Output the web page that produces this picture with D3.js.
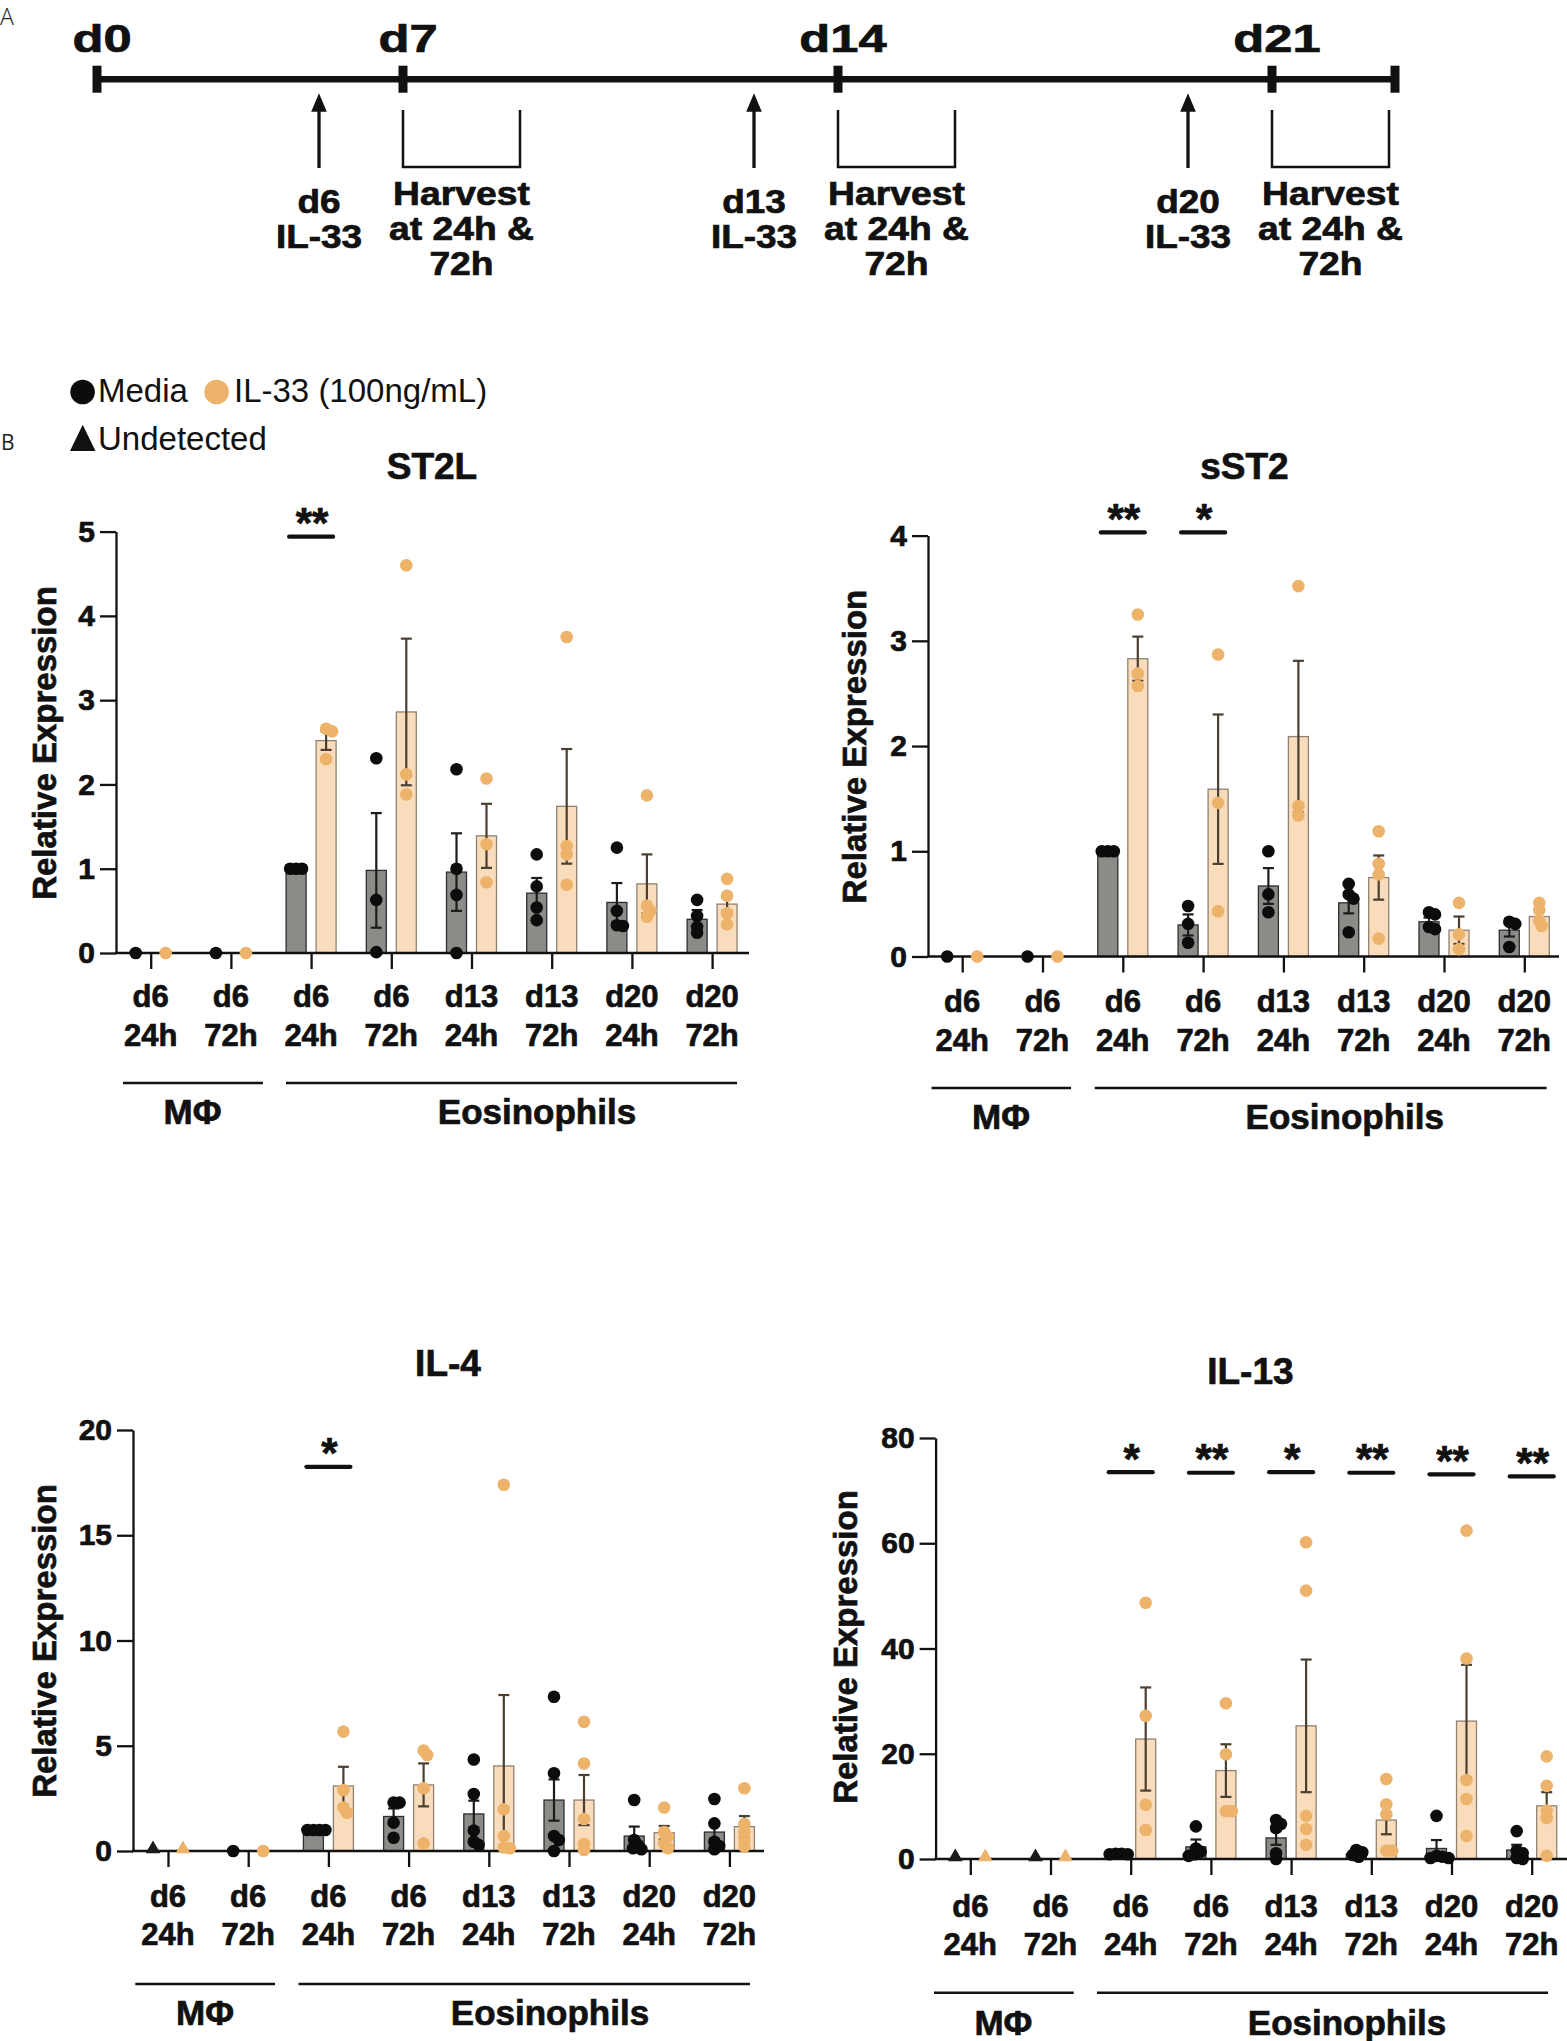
<!DOCTYPE html>
<html>
<head>
<meta charset="utf-8">
<script src="https://cdn.jsdelivr.net/npm/d3@7"></script>
<style>
body { margin: 0; background: #fff; }
svg { display: block; }
text { font-family: "Liberation Sans", Arial, Helvetica, sans-serif; }
.heavy { stroke: #111; stroke-width: 0.7px; }
</style>
</head>
<body>
<svg id="fig" width="1567" height="2041"></svg>
<script>
// ---- data ----
var tickTop = ["d6", "d6", "d6", "d6", "d13", "d13", "d20", "d20"];
var tickBottom = ["24h", "72h", "24h", "72h", "24h", "72h", "24h", "72h"];
var groupNames = ["MΦ", "Eosinophils"];
var seriesNames = ["Media", "IL-33 (100ng/mL)"];

// timeline (panel A)
var timelineDays = [0, 7, 14, 21];
var stimDays = [6, 13, 20];

// ST2L
var st2lTicks = [0, 1, 2, 3, 4, 5];
var st2lMediaMean = [0, 0, 1.0, 0.98, 0.96, 0.71, 0.60, 0.40];
var st2lMediaSem = [0, 0, 0, 0.68, 0.46, 0.18, 0.23, 0.11];
var st2lMediaPts = [[0], [0], [1, 1, 1], [2.31, 0.63, 0.01], [2.18, 1.0, 0.69, 0], [1.17, 0.79, 0.54, 0.39], [1.25, 0.50, 0.33, 0.32], [0.63, 0.44, 0.31, 0.24]];
var st2lIl33Mean = [0, 0, 2.52, 2.86, 1.39, 1.74, 0.82, 0.58];
var st2lIl33Sem = [0, 0, 0.11, 0.87, 0.38, 0.68, 0.35, 0.08];
var st2lIl33Pts = [[0], [0], [2.66, 2.63, 2.30], [4.60, 2.12, 1.88], [2.07, 1.29, 0.84], [3.75, 1.27, 1.17, 0.81], [1.87, 0.56, 0.50, 0.43], [0.88, 0.68, 0.47, 0.34]];
var st2lSigCats = [2], st2lSigText = ["**"], st2lSigLevel = [4.94];

// sST2
var sst2Ticks = [0, 1, 2, 3, 4];
var sst2MediaMean = [0, 0, 1.0, 0.30, 0.67, 0.51, 0.33, 0.25];
var sst2MediaSem = [0, 0, 0, 0.10, 0.17, 0.10, 0.04, 0.06];
var sst2MediaPts = [[0], [0], [1, 1, 1], [0.48, 0.31, 0.13], [1.0, 0.59, 0.42], [0.69, 0.59, 0.55, 0.23], [0.42, 0.40, 0.28, 0.26], [0.33, 0.31, 0.09]];
var sst2Il33Mean = [0, 0, 2.83, 1.59, 2.09, 0.75, 0.25, 0.38];
var sst2Il33Sem = [0, 0, 0.21, 0.71, 0.72, 0.21, 0.13, 0.05];
var sst2Il33Pts = [[0], [0], [3.25, 2.69, 2.57], [2.87, 1.46, 0.43], [3.52, 1.43, 1.34], [1.19, 0.88, 0.78, 0.17], [0.51, 0.21, 0.07], [0.51, 0.44, 0.34, 0.29]];
var sst2SigCats = [2, 3], sst2SigText = ["**", "*"], sst2SigLevel = [4.03, 4.03];

// IL-4
var il4Ticks = [0, 5, 10, 15, 20];
var il4MediaMean = [0, 0, 1.0, 1.64, 1.76, 2.42, 0.71, 0.90];
var il4MediaSem = [0, 0, 0, 0.38, 0.63, 0.98, 0.45, 0.34];
var il4MediaPts = [[0], [0], [1, 1, 1, 1], [2.3, 2.3, 1.35, 0.63], [4.35, 2.71, 0.97, 0.44, 0.29], [7.33, 3.69, 0.71, 0.52, 0], [2.42, 0.52, 0.29, 0.13, 0.08], [2.47, 1.31, 0.44, 0.24, 0.08]];
var il4Il33Mean = [0, 0, 3.09, 3.14, 4.04, 2.42, 0.87, 1.16];
var il4Il33Sem = [0, 0, 0.91, 1.02, 3.37, 1.19, 0.32, 0.50];
var il4Il33Pts = [[0], [0], [5.67, 2.9, 2.06, 1.82], [4.77, 4.56, 2.98, 0.36], [17.4, 1.98, 0.71, 0.17, 0.13], [6.14, 4.16, 1.52, 0.33, 0.05], [2.07, 0.9, 0.68, 0.36, 0.13], [2.98, 1.28, 0.92, 0.52, 0.21]];
var il4Undetected = [0];
var il4SigCats = [2], il4SigText = ["*"], il4SigLevel = [18.25];

// IL-13
var il13Ticks = [0, 20, 40, 60, 80];
var il13MediaMean = [0, 0, 0.95, 2.3, 4.0, 0.95, 2.0, 1.7];
var il13MediaSem = [0, 0, 0, 1.4, 1.3, 0.3, 1.6, 1.0];
var il13MediaPts = [[0], [0], [1, 1, 0.9, 0.9], [6.2, 2.0, 1.4, 0.9, 0.6], [7.4, 6.65, 5.9, 1.1, 0], [1.7, 1.27, 0.76, 0.44], [8.2, 0.6, 0.44, 0.2, 0.2], [5.3, 1.6, 1.1, 0.2, 0]];
var il13Il33Mean = [0, 0, 22.8, 16.8, 25.3, 7.4, 26.2, 10.1];
var il13Il33Sem = [0, 0, 9.8, 5.0, 12.6, 2.7, 10.7, 2.6];
var il13Il33Pts = [[0], [0], [48.7, 27.2, 10.3, 5.5], [29.6, 19.9, 9.1, 9.1], [60.2, 51.0, 8.2, 5.7, 2.7], [15.2, 10.4, 8.5, 1.6, 1.6], [62.4, 38.1, 15.0, 11.4, 4.4], [19.5, 13.9, 9.2, 7.8, 0.6]];
var il13Undetected = [0, 1];
var il13SigCats = [2, 3, 4, 5, 6, 7], il13SigText = ["*", "**", "*", "**", "**", "**"], il13SigLevel = [73.5, 73.4, 73.5, 73.4, 73.1, 72.7];

// ---- styles ----
var colMediaBar = "#8b8b87", colMediaEdge = "#2e2e2e", colMediaDot = "#0c0c0c", colMediaErr = "#1c1c1c";
var colIlBar = "#f9dcbb", colIlEdge = "#8f8272", colIlDot = "#eeb36b", colIlErr = "#4a3f30";
var ink = "#111";

var svg = d3.select("#fig");

// ---- panel A: timeline ----
var tx = d3.scaleLinear().domain(timelineDays).range([97, 403, 838, 1272]);
var lineY = 79.3, lineEnd = 1395;

svg.append("text").attr("x", 0).attr("y", 25)
  .style("font-family", "'Open Sans', sans-serif").style("font-size", "23px").style("font-weight", 300)
  .attr("fill", "#222").text("A");

svg.append("line").attr("x1", tx(0)).attr("x2", lineEnd).attr("y1", lineY).attr("y2", lineY)
  .attr("stroke", ink).attr("stroke-width", 6.5);

svg.selectAll(".dtick").data(timelineDays.map(tx).concat([lineEnd])).enter().append("line")
  .attr("x1", function(d) { return d; }).attr("x2", function(d) { return d; })
  .attr("y1", 65.7).attr("y2", 92.7).attr("stroke", ink).attr("stroke-width", 9);

svg.selectAll(".dlab").data(timelineDays).enter().append("text")
  .attr("class", "heavy")
  .attr("transform", function(d) { return "translate(" + (tx(d) + 5) + ",51.7) scale(1.3,1)"; })
  .attr("text-anchor", "middle").style("font-size", "39px").style("font-weight", "bold").attr("fill", ink)
  .text(function(d) { return "d" + d; });

// IL-33 stimulation arrows, one day before each harvest tick
var stim = svg.selectAll(".stim").data(stimDays).enter().append("g")
  .attr("transform", function(d) { return "translate(" + (tx(d + 1) - 84) + ",0)"; });
stim.append("line").attr("x1", 0).attr("x2", 0).attr("y1", 168).attr("y2", 108)
  .attr("stroke", ink).attr("stroke-width", 3.3);
stim.append("path").attr("d", "M0,93.3 L7.8,111.7 L-7.8,111.7 Z").attr("fill", ink);
stim.append("text").attr("class", "heavy").attr("y", 213.3).attr("text-anchor", "middle")
  .attr("transform", "scale(1.12,1)")
  .style("font-size", "33px").style("font-weight", "bold").attr("fill", ink)
  .selectAll("tspan").data(function(d) { return ["d" + d, "IL-33"]; }).enter().append("tspan")
  .attr("x", 0).attr("dy", function(d, i) { return i ? 35 : 0; }).text(function(d) { return d; });

// harvest brackets
var harv = svg.selectAll(".harv").data(stimDays).enter().append("g")
  .attr("transform", function(d) { return "translate(" + tx(d + 1) + ",0)"; });
harv.append("path").attr("d", "M0,110 V167 H117 V110").attr("fill", "none")
  .attr("stroke", ink).attr("stroke-width", 2.5);
harv.append("text").attr("class", "heavy").attr("y", 205).attr("text-anchor", "middle")
  .attr("transform", "translate(58.5,0) scale(1.13,1)")
  .style("font-size", "33px").style("font-weight", "bold").attr("fill", ink)
  .selectAll("tspan").data(["Harvest", "at 24h &", "72h"]).enter().append("tspan")
  .attr("x", 0).attr("dy", function(d, i) { return i ? 35 : 0; }).text(function(d) { return d; });

// ---- legend + B label ----
svg.append("text").attr("x", 1).attr("y", 449.5)
  .style("font-family", "'Open Sans', sans-serif").style("font-size", "21px")
  .attr("fill", "#222").text("B");

svg.append("circle").attr("cx", 82.6).attr("cy", 392).attr("r", 12.3).attr("fill", colMediaDot);
svg.append("text").attr("x", 98).attr("y", 402).style("font-size", "33px").attr("fill", ink).text(seriesNames[0]);
svg.append("circle").attr("cx", 216.6).attr("cy", 392).attr("r", 12.3).attr("fill", colIlDot);
svg.append("text").attr("x", 234).attr("y", 402).style("font-size", "33px").attr("fill", ink).text(seriesNames[1]);
svg.append("path").attr("d", "M70,451 L95.5,451 L82.7,424.7 Z").attr("fill", ink);
svg.append("text").attr("x", 98).attr("y", 449.5).style("font-size", "33px").attr("fill", ink).text("Undetected");

// ---- bar panels ----
var panels = [
  { title: "ST2L", ticks: st2lTicks,
    series: [{ mean: st2lMediaMean, sem: st2lMediaSem, pts: st2lMediaPts }, { mean: st2lIl33Mean, sem: st2lIl33Sem, pts: st2lIl33Pts }],
    undetected: [], sig: { cats: st2lSigCats, text: st2lSigText, level: st2lSigLevel },
    L: { ax: 116, y0: 953, yTop: 531.6, t0: 150.7, step: 80.2, axisEnd: 749, titleX: 432, titleY: 479,
         ylabX: 45, ylabY: 743, tl1: 1006.8, tl2: 1045.6, gY: 1083, mphi: [123, 263], eos: [286, 737],
         gLabY: 1124, mphiX: 192.5, eosX: 537 } },
  { title: "sST2", ticks: sst2Ticks,
    series: [{ mean: sst2MediaMean, sem: sst2MediaSem, pts: sst2MediaPts }, { mean: sst2Il33Mean, sem: sst2Il33Sem, pts: sst2Il33Pts }],
    undetected: [], sig: { cats: sst2SigCats, text: sst2SigText, level: sst2SigLevel },
    L: { ax: 928, y0: 956.5, yTop: 535.6, t0: 962.2, step: 80.3, axisEnd: 1559, titleX: 1244.4, titleY: 479.4,
         ylabX: 855.3, ylabY: 746.6, tl1: 1011.7, tl2: 1050.5, gY: 1088, mphi: [931.6, 1071], eos: [1094.8, 1546.6],
         gLabY: 1128.7, mphiX: 1001, eosX: 1344.8 } },
  { title: "IL-4", ticks: il4Ticks,
    series: [{ mean: il4MediaMean, sem: il4MediaSem, pts: il4MediaPts }, { mean: il4Il33Mean, sem: il4Il33Sem, pts: il4Il33Pts }],
    undetected: il4Undetected, sig: { cats: il4SigCats, text: il4SigText, level: il4SigLevel },
    L: { ax: 133, y0: 1851, yTop: 1430, t0: 168, step: 80.2, axisEnd: 764, titleX: 448, titleY: 1375.6,
         ylabX: 44.8, ylabY: 1641, tl1: 1907, tl2: 1945, gY: 1984, mphi: [135.3, 275], eos: [298.5, 750],
         gLabY: 2025, mphiX: 205, eosX: 550 } },
  { title: "IL-13", ticks: il13Ticks,
    series: [{ mean: il13MediaMean, sem: il13MediaSem, pts: il13MediaPts }, { mean: il13Il33Mean, sem: il13Il33Sem, pts: il13Il33Pts }],
    undetected: il13Undetected, sig: { cats: il13SigCats, text: il13SigText, level: il13SigLevel },
    L: { ax: 935.6, y0: 1859, yTop: 1438, t0: 970.3, step: 80.2, axisEnd: 1567, titleX: 1250.4, titleY: 1384,
         ylabX: 846, ylabY: 1647, tl1: 1916.7, tl2: 1954.5, gY: 1992.8, mphi: [934, 1073.7], eos: [1097, 1548],
         gLabY: 2035, mphiX: 1003.4, eosX: 1347 } }
];

var seriesStyle = [
  { off: -15, bar: colMediaBar, edge: colMediaEdge, dot: colMediaDot, err: colMediaErr },
  { off: 15, bar: colIlBar, edge: colIlEdge, dot: colIlDot, err: colIlErr }
];
var barW = 20, dotR = 6.3;

// simple beeswarm: nudge overlapping points sideways
function spread(vals, yS) {
  var placed = [];
  return vals.map(function(v) {
    var py = yS(v), k = 0, dx;
    for (;;) {
      dx = (k % 2 ? 1 : -1) * Math.ceil(k / 2) * 1.2;
      var ok = placed.every(function(p) { return Math.hypot(p[0] - dx, p[1] - py) >= 5.6; });
      if (ok) break;
      k++;
    }
    placed.push([dx, py]);
    return [dx, py];
  });
}

panels.forEach(function(p) {
  var L = p.L;
  var g = svg.append("g");
  var y = d3.scaleLinear().domain([0, d3.max(p.ticks)]).range([L.y0, L.yTop]);
  var x = d3.scalePoint().domain(d3.range(tickTop.length)).range([L.t0, L.t0 + (tickTop.length - 1) * L.step]);

  // title
  g.append("text").attr("class", "heavy").attr("x", L.titleX).attr("y", L.titleY).attr("text-anchor", "middle")
    .style("font-size", "37px").style("font-weight", "bold").attr("fill", ink).text(p.title);

  // y label
  g.append("text").attr("class", "heavy").attr("transform", "translate(" + L.ylabX + "," + L.ylabY + ") rotate(-90)")
    .attr("text-anchor", "middle").attr("dy", "0.33em")
    .style("font-size", "33px").style("font-weight", "bold").attr("fill", ink).text("Relative Expression");

  // bars
  seriesStyle.forEach(function(s, si) {
    var ser = p.series[si];
    g.selectAll(null).data(ser.mean.map(function(m, i) { return { m: m, i: i }; }).filter(function(d) { return d.m > 0; }))
      .enter().append("rect")
      .attr("x", function(d) { return x(d.i) + s.off - barW / 2; })
      .attr("y", function(d) { return y(d.m); })
      .attr("width", barW)
      .attr("height", function(d) { return L.y0 - y(d.m); })
      .attr("fill", s.bar).attr("stroke", s.edge).attr("stroke-width", 1.3);
  });

  // axes
  var yAxis = d3.axisLeft(y).tickValues(p.ticks).tickFormat(d3.format("d"))
    .tickSize(16).tickSizeOuter(0).tickPadding(5);
  var ya = g.append("g").attr("transform", "translate(" + L.ax + ",0)").call(yAxis);
  ya.select(".domain").attr("stroke", ink).attr("stroke-width", 2.3);
  ya.selectAll(".tick line").attr("stroke", ink).attr("stroke-width", 2.3);
  ya.selectAll(".tick text").attr("class", "heavy").attr("fill", ink)
    .style("font-size", "30px").style("font-weight", "bold")
    .style("font-family", "'Liberation Sans', Arial, sans-serif");

  var xAxis = d3.axisBottom(x).tickSize(16).tickSizeOuter(0).tickFormat("");
  var xa = g.append("g").attr("transform", "translate(0," + L.y0 + ")").call(xAxis);
  xa.select(".domain").remove();
  xa.selectAll(".tick line").attr("stroke", ink).attr("stroke-width", 2.3);
  g.append("line").attr("x1", L.ax - 1).attr("x2", L.axisEnd).attr("y1", L.y0).attr("y2", L.y0)
    .attr("stroke", ink).attr("stroke-width", 2.3);

  // two-line category labels
  var cl = g.selectAll(null).data(d3.range(tickTop.length)).enter().append("text")
    .attr("class", "heavy").attr("text-anchor", "middle")
    .style("font-size", "31px").style("font-weight", "bold").attr("fill", ink);
  cl.append("tspan").attr("x", function(i) { return x(i); }).attr("y", L.tl1).text(function(i) { return tickTop[i]; });
  cl.append("tspan").attr("x", function(i) { return x(i); }).attr("y", L.tl2).text(function(i) { return tickBottom[i]; });

  // cell-type group lines
  [[L.mphi, L.mphiX, groupNames[0]], [L.eos, L.eosX, groupNames[1]]].forEach(function(gr) {
    g.append("line").attr("x1", gr[0][0]).attr("x2", gr[0][1]).attr("y1", L.gY).attr("y2", L.gY)
      .attr("stroke", ink).attr("stroke-width", 2.6);
    g.append("text").attr("class", "heavy").attr("x", gr[1]).attr("y", L.gLabY).attr("text-anchor", "middle")
      .style("font-size", "35px").style("font-weight", "bold").attr("fill", ink).text(gr[2]);
  });

  // error bars (mean +/- SEM)
  seriesStyle.forEach(function(s, si) {
    var ser = p.series[si];
    ser.mean.forEach(function(m, i) {
      var e = ser.sem[i];
      if (!(e > 0)) return;
      var cx = x(i) + s.off, hi = y(m + e), lo = y(Math.max(0, m - e));
      g.append("line").attr("x1", cx).attr("x2", cx).attr("y1", hi).attr("y2", lo)
        .attr("stroke", s.err).attr("stroke-width", 2.2);
      [hi, lo].forEach(function(yy) {
        g.append("line").attr("x1", cx - 5.5).attr("x2", cx + 5.5).attr("y1", yy).attr("y2", yy)
          .attr("stroke", s.err).attr("stroke-width", 2.2);
      });
    });
  });

  // individual points
  var tri = d3.symbol().type(d3.symbolTriangle).size(95);
  seriesStyle.forEach(function(s, si) {
    var ser = p.series[si];
    ser.pts.forEach(function(vals, i) {
      var cx = x(i) + s.off;
      if (p.undetected.indexOf(i) >= 0) {
        g.append("path").attr("d", tri).attr("transform", "translate(" + cx + "," + (L.y0 - 2) + ")")
          .attr("fill", s.dot === colMediaDot ? "#1b1b1b" : s.dot);
        return;
      }
      g.selectAll(null).data(spread(vals, y)).enter().append("circle")
        .attr("cx", function(d) { return cx + d[0]; })
        .attr("cy", function(d) { return d[1]; })
        .attr("r", dotR).attr("fill", s.dot);
    });
  });

  // significance marks
  p.sig.cats.forEach(function(c, k) {
    var yy = y(p.sig.level[k]);
    g.append("line").attr("x1", x(c) - 22).attr("x2", x(c) + 22).attr("y1", yy).attr("y2", yy)
      .attr("stroke", ink).attr("stroke-width", 4.2).attr("stroke-linecap", "round");
    g.append("text").attr("class", "heavy").attr("x", x(c) + 1).attr("y", yy + 0.5).attr("text-anchor", "middle")
      .style("font-size", "42px").style("font-weight", "bold").attr("fill", ink).text(p.sig.text[k]);
  });
});
</script>
</body>
</html>
